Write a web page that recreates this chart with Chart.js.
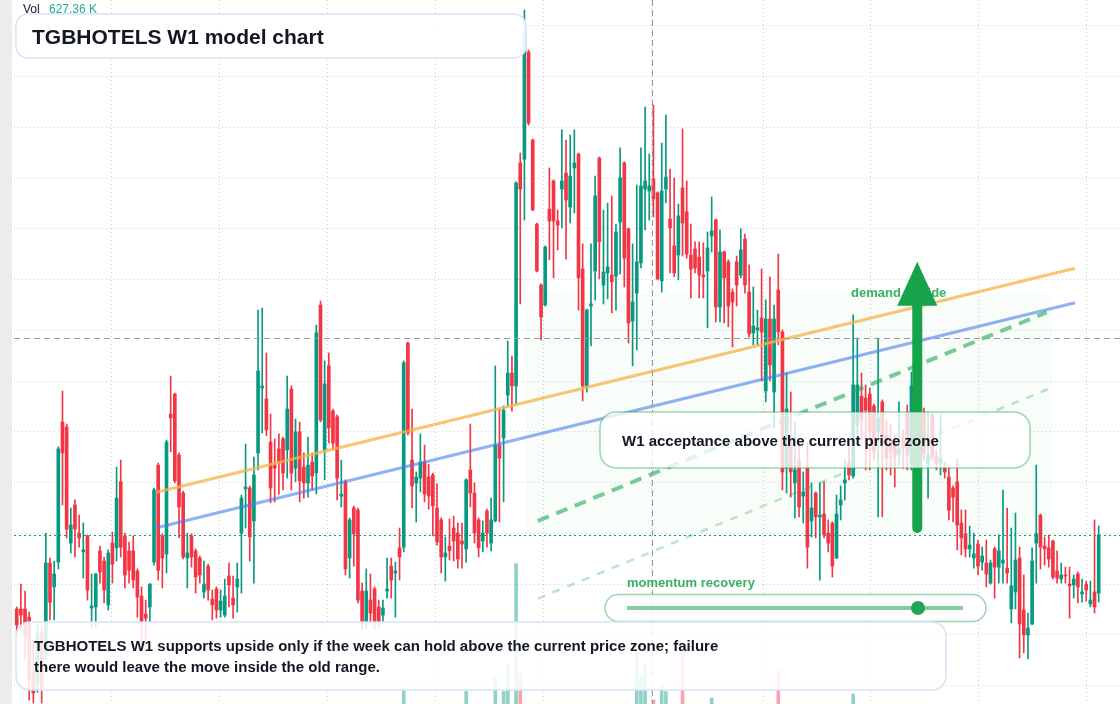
<!DOCTYPE html>
<html>
<head>
<meta charset="utf-8">
<script src="https://cdn.jsdelivr.net/npm/chart.js@4.4.0/dist/chart.umd.min.js"></script>
<style>
  html, body { margin: 0; padding: 0; background: #fff; }
  #wrap { width: 1120px; height: 704px; }
</style>
</head>
<body>
<div id="wrap"><canvas id="chart" width="1120" height="704"></canvas></div>
<script>
//------ Weekly OHLC (one row = 10 weeks) ------//
const opens = [
  9.02, 9.02, 9.02, 8.70, 6.54, 6.02, 8.07, 7.21, 10.83, 9.89,
  10.87, 16.39, 16.19, 11.62, 13.12, 12.01, 11.27, 11.90, 9.06, 9.10,
  11.31, 10.91, 9.18, 11.62, 11.43, 14.03, 11.90, 11.31, 11.31, 10.52,
  9.53, 8.82, 9.10, 10.87, 14.69, 11.90, 11.19, 16.70, 17.49, 15.09,
  13.59, 11.03, 11.90, 11.31, 11.03, 9.69, 10.71, 9.41, 9.81, 8.98,
  8.78, 10.32, 9.45, 9.89, 12.01, 13.75, 13.79, 12.49, 15.17, 17.73,
  17.30, 15.60, 14.69, 15.33, 15.72, 15.29, 17.69, 14.57, 16.00, 14.61,
  13.99, 14.81, 14.38, 21.00, 15.29, 18.60, 16.82, 16.59, 13.47, 14.03,
  11.03, 13.00, 12.92, 9.73, 8.51, 9.37, 9.81, 9.10, 8.78, 9.73,
  10.71, 10.44, 11.43, 11.46, 19.50, 14.89, 13.99, 14.18, 14.81, 14.22,
  14.30, 13.00, 12.53, 11.07, 11.50, 12.21, 12.01, 11.70, 11.39, 14.50,
  13.59, 12.53, 11.70, 12.88, 11.62, 12.49, 15.48, 15.76, 17.45, 18.32,
  17.81, 26.60, 26.75, 30.97, 27.50, 24.19, 21.79, 21.00, 24.78, 25.89,
  24.31, 25.57, 26.20, 24.86, 26.40, 26.95, 22.42, 17.81, 20.96, 22.34,
  26.79, 21.79, 22.26, 22.18, 22.14, 24.27, 26.60, 24.00, 20.37, 21.47,
  22.66, 25.57, 25.49, 25.97, 25.42, 21.95, 25.57, 24.39, 23.33, 22.97,
  25.61, 24.67, 22.97, 23.21, 22.89, 22.18, 22.34, 23.72, 24.35, 20.92,
  23.09, 22.70, 21.51, 22.70, 22.18, 23.60, 21.51, 19.90, 20.02, 20.49,
  17.61, 20.45, 17.57, 21.59, 19.94, 14.57, 15.68, 13.99, 14.85, 13.47,
  14.57, 12.49, 13.59, 12.65, 12.76, 12.01, 12.41, 11.03, 13.12, 13.99,
  14.81, 14.26, 16.28, 17.41, 17.33, 17.49, 17.02, 16.00, 17.18, 15.88,
  15.68, 15.56, 15.13, 15.68, 16.74, 14.77, 17.33, 15.48, 16.78, 14.77,
  16.70, 15.05, 14.77, 14.61, 14.22, 13.79, 14.03, 12.41, 11.98, 11.39,
  11.03, 11.58, 10.87, 10.83, 10.04, 11.39, 10.67, 10.83, 10.63, 9.02,
  9.69, 11.03, 8.98, 8.00, 8.43, 11.62, 12.72, 11.50, 11.43, 11.70,
  10.52, 10.20, 10.36, 10.00, 9.97, 10.40, 9.61, 10.00, 9.22, 9.69,
  9.65
];
const highs = [
  9.10, 10.00, 9.73, 8.90, 7.80, 8.39, 8.27, 12.01, 11.03, 10.91,
  15.41, 17.61, 16.31, 13.00, 13.32, 12.72, 12.41, 11.94, 10.40, 10.42,
  11.50, 11.07, 11.35, 12.05, 14.61, 14.89, 12.01, 11.66, 11.90, 10.60,
  9.89, 9.37, 10.02, 13.79, 14.77, 11.98, 15.68, 18.20, 17.53, 15.17,
  13.67, 12.01, 11.98, 11.39, 11.11, 10.91, 10.79, 9.77, 9.89, 9.77,
  10.20, 10.83, 10.32, 10.83, 13.51, 15.52, 13.87, 15.01, 20.80, 20.88,
  19.11, 16.70, 15.72, 15.92, 15.80, 18.20, 17.81, 16.51, 16.39, 15.17,
  15.80, 15.17, 20.21, 21.16, 18.80, 19.11, 16.90, 16.67, 14.89, 14.11,
  12.61, 13.08, 13.00, 10.04, 10.60, 10.40, 9.89, 9.37, 9.37, 11.03,
  11.03, 10.87, 12.21, 18.80, 19.54, 16.90, 14.42, 15.92, 15.48, 14.73,
  14.38, 13.95, 12.61, 11.86, 12.57, 12.68, 12.41, 12.41, 14.15, 16.31,
  13.99, 12.61, 12.49, 12.96, 13.39, 18.60, 16.90, 17.02, 19.58, 18.99,
  25.85, 26.99, 32.63, 31.05, 27.54, 24.23, 21.83, 23.33, 26.40, 25.93,
  24.74, 27.90, 27.50, 27.70, 27.90, 26.99, 23.41, 20.84, 23.41, 26.08,
  26.83, 24.74, 25.02, 25.30, 24.19, 27.19, 26.64, 24.04, 23.41, 25.73,
  27.19, 28.80, 26.95, 28.88, 25.46, 27.38, 28.49, 26.36, 26.01, 24.98,
  27.94, 25.89, 24.19, 23.49, 23.49, 23.45, 23.88, 25.26, 24.39, 23.96,
  23.13, 22.78, 21.63, 22.93, 24.00, 23.80, 22.58, 21.71, 20.80, 22.42,
  21.20, 22.11, 21.00, 23.01, 20.02, 18.32, 17.57, 16.39, 15.56, 14.42,
  15.56, 13.99, 13.63, 13.99, 14.03, 12.53, 12.45, 13.51, 13.87, 14.89,
  15.56, 20.61, 19.70, 18.32, 17.85, 17.73, 17.10, 19.70, 17.26, 16.47,
  16.28, 15.88, 17.18, 16.08, 17.06, 18.36, 17.65, 17.26, 16.94, 16.78,
  16.70, 15.29, 16.70, 14.81, 14.61, 13.87, 14.93, 12.92, 12.92, 12.29,
  12.01, 11.74, 11.46, 11.74, 10.95, 11.46, 11.94, 13.71, 13.00, 12.21,
  12.80, 11.46, 10.36, 8.86, 11.43, 14.69, 12.76, 11.86, 11.94, 11.74,
  11.31, 10.83, 10.67, 10.67, 10.36, 10.48, 10.20, 10.12, 10.12, 12.53,
  12.29
];
const lows = [
  8.11, 8.19, 7.01, 5.43, 5.31, 5.74, 5.31, 7.01, 8.59, 8.59,
  10.60, 13.12, 11.82, 11.23, 11.07, 11.46, 10.24, 9.37, 8.27, 8.27,
  10.04, 9.26, 8.98, 10.04, 10.91, 11.07, 9.85, 10.04, 9.85, 8.70,
  7.52, 7.52, 8.47, 10.75, 10.16, 9.85, 10.44, 15.21, 13.99, 11.82,
  10.99, 9.85, 10.67, 9.65, 10.04, 9.45, 9.37, 8.59, 8.66, 8.70,
  8.70, 9.10, 8.66, 8.90, 9.65, 12.21, 10.91, 10.04, 14.50, 15.96,
  15.85, 13.20, 13.24, 13.55, 13.71, 14.18, 13.71, 14.03, 13.24, 13.39,
  13.43, 13.71, 13.55, 16.39, 14.11, 15.56, 15.29, 13.32, 13.04, 10.36,
  10.24, 10.71, 9.26, 8.19, 8.27, 8.47, 8.19, 8.27, 8.51, 9.45,
  9.45, 8.70, 10.16, 11.27, 15.88, 13.00, 12.45, 13.63, 13.24, 12.96,
  11.90, 11.54, 10.44, 10.12, 10.95, 10.91, 10.63, 10.63, 10.87, 13.04,
  11.62, 11.07, 11.27, 11.46, 11.31, 12.45, 12.45, 13.24, 17.02, 16.82,
  17.10, 21.04, 24.35, 28.09, 24.71, 22.30, 19.62, 20.96, 22.78, 22.07,
  23.17, 24.04, 22.81, 24.23, 24.63, 20.80, 17.22, 17.57, 19.39, 21.20,
  22.03, 21.04, 21.24, 20.69, 20.80, 22.22, 21.71, 19.50, 18.60, 19.23,
  22.46, 23.96, 24.35, 24.47, 21.99, 21.51, 25.02, 22.26, 22.11, 21.99,
  22.93, 22.85, 21.28, 22.26, 21.28, 21.28, 20.10, 23.09, 20.33, 20.33,
  20.29, 20.14, 19.35, 20.96, 22.07, 21.47, 19.74, 19.43, 19.43, 18.01,
  17.18, 18.01, 16.16, 19.43, 13.71, 13.59, 13.43, 12.61, 12.65, 12.41,
  10.63, 11.86, 11.82, 10.16, 11.82, 11.27, 10.28, 11.00, 12.53, 13.32,
  14.11, 14.18, 15.68, 15.68, 14.50, 14.50, 14.89, 12.65, 12.65, 14.50,
  14.30, 13.83, 14.69, 14.57, 14.50, 14.50, 15.09, 14.89, 14.89, 13.39,
  14.89, 14.50, 14.30, 14.18, 12.53, 12.45, 11.35, 11.15, 11.07, 11.07,
  10.63, 10.36, 10.55, 9.89, 10.00, 9.45, 10.04, 10.04, 10.04, 8.47,
  9.02, 7.09, 7.29, 7.05, 8.40, 10.04, 10.60, 10.75, 10.67, 10.20,
  10.04, 10.04, 10.04, 8.66, 9.45, 9.26, 9.29, 9.33, 9.10, 8.86,
  9.29
];
const closes = [
  8.39, 8.78, 7.99, 6.22, 5.71, 8.07, 5.90, 10.83, 9.29, 10.40,
  15.33, 15.17, 12.17, 12.33, 12.17, 11.82, 11.35, 9.77, 9.14, 10.40,
  10.48, 9.77, 11.23, 10.79, 13.39, 11.46, 10.36, 10.55, 10.16, 9.49,
  8.51, 8.66, 10.00, 13.71, 10.55, 11.03, 15.60, 16.55, 14.07, 13.04,
  11.07, 11.23, 11.07, 10.28, 10.36, 10.00, 9.77, 9.18, 8.98, 9.33,
  9.53, 9.97, 9.18, 10.20, 13.39, 13.83, 11.86, 14.30, 18.40, 17.81,
  16.08, 13.79, 14.57, 14.77, 14.38, 16.90, 14.38, 16.00, 14.07, 13.99,
  14.69, 14.26, 19.90, 16.47, 17.89, 16.16, 15.56, 14.18, 13.55, 10.60,
  12.53, 11.98, 9.37, 8.51, 9.73, 8.86, 8.51, 8.51, 9.06, 9.81,
  10.16, 10.52, 11.07, 18.72, 15.96, 13.87, 14.22, 14.81, 13.55, 13.47,
  13.08, 11.66, 11.07, 11.23, 11.31, 11.70, 10.99, 11.58, 14.11, 13.59,
  12.01, 11.43, 12.01, 12.01, 12.53, 15.48, 14.97, 16.86, 18.32, 17.81,
  25.81, 25.57, 31.80, 28.17, 24.75, 22.34, 20.53, 23.29, 24.31, 24.31,
  24.15, 25.89, 25.14, 26.08, 26.60, 22.07, 17.81, 20.80, 21.04, 25.30,
  23.49, 22.30, 22.50, 21.91, 23.88, 26.01, 22.85, 20.29, 21.12, 22.70,
  25.69, 25.89, 25.69, 25.18, 22.03, 25.49, 26.04, 24.04, 22.26, 24.51,
  24.23, 23.01, 22.42, 22.46, 22.18, 22.11, 23.25, 23.92, 20.92, 23.09,
  22.07, 20.96, 21.12, 21.79, 23.17, 21.79, 19.86, 20.17, 20.10, 19.94,
  20.45, 18.64, 20.45, 19.94, 14.42, 16.90, 14.42, 14.50, 13.04, 13.63,
  11.46, 13.00, 12.65, 12.72, 11.94, 11.62, 10.71, 12.76, 13.32, 14.11,
  14.30, 17.85, 17.85, 16.47, 16.86, 16.00, 15.21, 16.55, 15.56, 14.97,
  15.21, 15.01, 15.33, 15.37, 15.09, 17.81, 15.68, 16.47, 15.17, 15.09,
  15.01, 14.77, 14.97, 14.42, 12.92, 13.43, 12.33, 11.82, 11.39, 11.54,
  11.19, 10.71, 11.11, 10.40, 10.83, 10.67, 11.31, 10.95, 10.44, 9.93,
  10.95, 8.43, 8.00, 8.27, 10.91, 11.98, 11.46, 11.39, 10.99, 10.28,
  10.24, 10.36, 10.32, 9.93, 10.20, 9.89, 9.69, 9.77, 9.37, 9.10,
  11.94
];
// volume in K shares
const volumes = [
  420, 380, 510, 690, 640, 560, 610, 720, 480, 350,
  760, 690, 540, 330, 410, 280, 300, 450, 260, 310,
  290, 340, 380, 270, 520, 470, 360, 240, 300, 330,
  410, 280, 300, 620, 580, 310, 700, 560, 520, 430,
  470, 260, 280, 300, 240, 220, 290, 310, 270, 230,
  250, 240, 260, 230, 480, 390, 350, 460, 780, 640,
  520, 470, 300, 280, 310, 420, 500, 330, 390, 260,
  280, 240, 760, 710, 520, 480, 300, 420, 250, 610,
  390, 330, 560, 470, 340, 300, 280, 250, 230, 270,
  260, 240, 300, 1164, 790, 520, 340, 370, 320, 300,
  330, 380, 350, 240, 260, 250, 270, 230, 1084, 560,
  420, 310, 260, 280, 330, 1391, 720, 1084, 1696, 760,
  3991, 1505, 780, 740, 690, 610, 580, 520, 470, 430,
  360, 420, 450, 390, 370, 660, 720, 590, 420, 560,
  610, 380, 340, 400, 450, 620, 590, 640, 510, 1959,
  1414, 1709, 640, 891, 760, 1255, 1080, 470, 420, 610,
  2027, 560, 420, 310, 330, 300, 620, 936, 620, 580,
  430, 410, 370, 390, 420, 460, 520, 330, 290, 480,
  610, 640, 640, 1550, 760, 690, 540, 430, 450, 380,
  620, 410, 370, 360, 400, 330, 420, 520, 380, 560,
  360, 1027, 560, 420, 380, 440, 410, 640, 510, 380,
  330, 300, 360, 290, 370, 690, 420, 380, 400, 350,
  390, 280, 300, 260, 410, 300, 470, 350, 330, 280,
  270, 300, 250, 290, 280, 310, 300, 420, 360, 450,
  420, 580, 510, 460, 600, 640, 420, 300, 280, 330,
  290, 240, 220, 360, 260, 300, 240, 250, 230, 440,
  627.36
];

// half-year grid lines (in weeks from the first bar) and price grid
const gridWeeks = [22.83, 48.68, 74.64, 100.68, 126.64, 152.59, 179.41, 205.12, 231.07, 257.02];
const priceTicks = [6, 8, 10, 12, 14, 16, 18, 20, 22, 24, 26, 28, 30, 32];

// drawn levels: [week, price] pairs
const trendUpper = [[33.64, 13.62], [254.31, 22.45]];
const trendLower = [[33.64, 12.22], [254.31, 21.09]];
const guideStrong = [[125.2, 12.49], [247.5, 20.71]];
const guideWeak = [[125.2, 9.43], [247.75, 17.68]];
const demandZone = { from: 122.4, to: 248.7, top: 21.51 };
const arrowWeek = 216.4, arrowFrom = 12.21, arrowTo = 22.70;
const crossWeek = 152.59, crossPrice = 19.70;
const lastVolume = '627.36 K';

//------ Colors ------//
const green = '#089981';
const red = '#f23645';
const FONT = "'Liberation Sans', Arial, sans-serif";

const weeks = opens.map((_, i) => i);
const isUp = weeks.map(i => closes[i] >= opens[i]);
const candleColors = isUp.map(u => u ? green : red);
const volColors = isUp.map(u => u ? 'rgba(8,153,129,0.45)' : 'rgba(242,54,69,0.45)');
const toXY = pts => pts.map(([x, y]) => ({ x, y }));

function roundBox(ctx, x, y, w, h, r, fill, stroke, lw) {
  ctx.beginPath();
  ctx.roundRect(x, y, w, h, r);
  if (fill) { ctx.fillStyle = fill; ctx.fill(); }
  if (stroke) { ctx.strokeStyle = stroke; ctx.lineWidth = lw; ctx.stroke(); }
}

//------ Overlay: zone, crosshair, notes ------//
const overlay = {
  id: 'overlay',
  beforeDraw(chart) {
    const { ctx } = chart;
    ctx.save();
    ctx.fillStyle = '#fff';
    ctx.fillRect(0, 0, chart.width, chart.height);
    ctx.fillStyle = '#ececec';
    ctx.fillRect(0, 0, 12, chart.height);
    ctx.restore();
  },
  beforeDatasetsDraw(chart) {
    const { ctx, scales: { x, y } } = chart;
    const x0 = x.getPixelForValue(demandZone.from), x1 = x.getPixelForValue(demandZone.to);
    const y0 = y.getPixelForValue(demandZone.top), y1 = y.getPixelForValue(closes[closes.length - 1]);
    ctx.save();
    roundBox(ctx, x0, y0, x1 - x0, y1 - y0, 10, 'rgba(34,197,94,0.03)');
    ctx.restore();
  },
  afterDatasetsDraw(chart) {
    const { ctx, chartArea: a, scales: { x, y } } = chart;
    ctx.save();

    // crosshair
    ctx.strokeStyle = '#9a9a9a';
    ctx.lineWidth = 1;
    ctx.setLineDash([6, 4]);
    const cy = Math.round(y.getPixelForValue(crossPrice)) + 0.5;
    const cx = Math.round(x.getPixelForValue(crossWeek)) + 0.5;
    ctx.beginPath();
    ctx.moveTo(a.left, cy); ctx.lineTo(a.right, cy);
    ctx.moveTo(cx, a.top); ctx.lineTo(cx, a.bottom);
    ctx.stroke();

    // last price line
    const py = Math.round(y.getPixelForValue(closes[closes.length - 1])) + 0.5;
    ctx.strokeStyle = green;
    ctx.setLineDash([2, 3]);
    ctx.beginPath();
    ctx.moveTo(a.left, py); ctx.lineTo(a.right, py);
    ctx.stroke();
    ctx.setLineDash([]);

    // zone label
    ctx.font = `bold 13px ${FONT}`;
    ctx.fillStyle = 'rgba(22,163,74,0.85)';
    ctx.textBaseline = 'middle';
    ctx.fillText('demand upside', 851, 293);

    // arrow
    const ax = x.getPixelForValue(arrowWeek);
    const aTop = y.getPixelForValue(arrowTo);
    const aBot = y.getPixelForValue(arrowFrom);
    ctx.strokeStyle = '#16a34a';
    ctx.fillStyle = '#16a34a';
    ctx.lineWidth = 10;
    ctx.lineCap = 'round';
    ctx.beginPath();
    ctx.moveTo(ax, aBot); ctx.lineTo(ax, aTop + 40);
    ctx.stroke();
    ctx.beginPath();
    ctx.moveTo(ax, aTop);
    ctx.lineTo(ax + 20, aTop + 44);
    ctx.lineTo(ax - 20, aTop + 44);
    ctx.closePath();
    ctx.fill();
    ctx.lineCap = 'butt';

    // acceptance callout
    roundBox(ctx, 600, 412, 430, 56, 16, 'rgba(255,255,255,0.78)', 'rgba(34,163,74,0.45)', 1.5);
    ctx.font = `bold 15px ${FONT}`;
    ctx.fillStyle = '#131722';
    ctx.fillText('W1 acceptance above the current price zone', 622, 442);

    // momentum slider
    ctx.font = `bold 13px ${FONT}`;
    ctx.fillStyle = 'rgba(22,163,74,0.85)';
    ctx.fillText('momentum recovery', 627, 583);
    roundBox(ctx, 605, 594.5, 381, 27, 13.5, 'rgba(255,255,255,0.92)', 'rgba(34,163,74,0.45)', 1.5);
    ctx.strokeStyle = 'rgba(34,163,74,0.55)';
    ctx.lineWidth = 4;
    ctx.beginPath();
    ctx.moveTo(627, 608); ctx.lineTo(963, 608);
    ctx.stroke();
    ctx.fillStyle = '#22a556';
    ctx.beginPath();
    ctx.arc(918, 608, 7, 0, Math.PI * 2);
    ctx.fill();

    // bottom note
    roundBox(ctx, 16, 622, 930, 68, 14, 'rgba(255,255,255,0.86)', '#d6e4f7', 1.5);
    ctx.font = `bold 15px ${FONT}`;
    ctx.fillStyle = '#131722';
    ctx.fillText('TGBHOTELS W1 supports upside only if the week can hold above the current price zone; failure', 34, 647);
    ctx.fillText('there would leave the move inside the old range.', 34, 667.5);

    // title
    roundBox(ctx, 16, 14, 510, 44, 12, 'rgba(255,255,255,0.92)', '#d6e4f7', 1.5);
    ctx.font = `bold 21px ${FONT}`;
    ctx.fillStyle = '#131722';
    ctx.textBaseline = 'alphabetic';
    ctx.fillText('TGBHOTELS W1 model chart', 32, 44);

    // volume legend
    ctx.font = `12px ${FONT}`;
    ctx.fillStyle = '#131722';
    ctx.fillText('Vol', 23, 13);
    ctx.fillStyle = '#22ab94';
    ctx.fillText(lastVolume, 49, 13);

    ctx.restore();
  }
};

//------ Chart ------//
const lineSet = (data, color, width, dash, order) => ({
  type: 'line', data: toXY(data), borderColor: color, borderWidth: width,
  borderDash: dash, pointRadius: 0, order, yAxisID: 'y'
});

new Chart(document.getElementById('chart'), {
  type: 'bar',
  data: {
    datasets: [
      lineSet(trendUpper, 'rgba(246,178,70,0.75)', 3, [], 0),
      lineSet(trendLower, 'rgba(70,125,235,0.6)', 3, [], 0),
      lineSet(guideStrong, 'rgba(34,170,84,0.6)', 4, [12, 8], 0),
      lineSet(guideWeak, 'rgba(34,170,84,0.3)', 2.5, [8, 8], 0),
      {
        label: 'Volume', data: weeks.map(i => ({ x: i, y: volumes[i] })),
        backgroundColor: volColors, barThickness: 3, grouped: false, yAxisID: 'v', order: 4
      },
      {
        label: 'Wick', data: weeks.map(i => ({ x: i, y: [lows[i], highs[i]] })),
        backgroundColor: candleColors, barThickness: 1, grouped: false, yAxisID: 'y', order: 3
      },
      {
        label: 'Body', data: weeks.map(i => ({ x: i, y: [opens[i], closes[i]] })),
        backgroundColor: candleColors, barThickness: 3, minBarLength: 1, grouped: false, yAxisID: 'y', order: 2
      }
    ]
  },
  options: {
    responsive: false,
    animation: false,
    events: [],
    layout: { padding: { left: 14, right: 0, top: 0, bottom: 0 } },
    plugins: { legend: { display: false }, tooltip: { enabled: false } },
    scales: {
      x: {
        type: 'linear', min: -0.65, max: 265.12, offset: false,
        grid: { color: '#cfcfcf', drawTicks: false, offset: false },
        border: { display: false, dash: [1, 3] },
        ticks: { display: false },
        afterBuildTicks: s => { s.ticks = gridWeeks.map(v => ({ value: v })); },
        afterFit: s => { s.height = 0; }
      },
      y: {
        type: 'linear', position: 'right', min: 5.276, max: 33.02,
        grid: { color: '#cfcfcf', drawTicks: false },
        border: { display: false, dash: [1, 3] },
        ticks: { display: false },
        afterBuildTicks: s => { s.ticks = priceTicks.map(v => ({ value: v })); },
        afterFit: s => { s.width = 0; }
      },
      v: { type: 'linear', display: false, min: 800, max: 16800 }
    }
  },
  plugins: [overlay]
});
</script>
</body>
</html>
